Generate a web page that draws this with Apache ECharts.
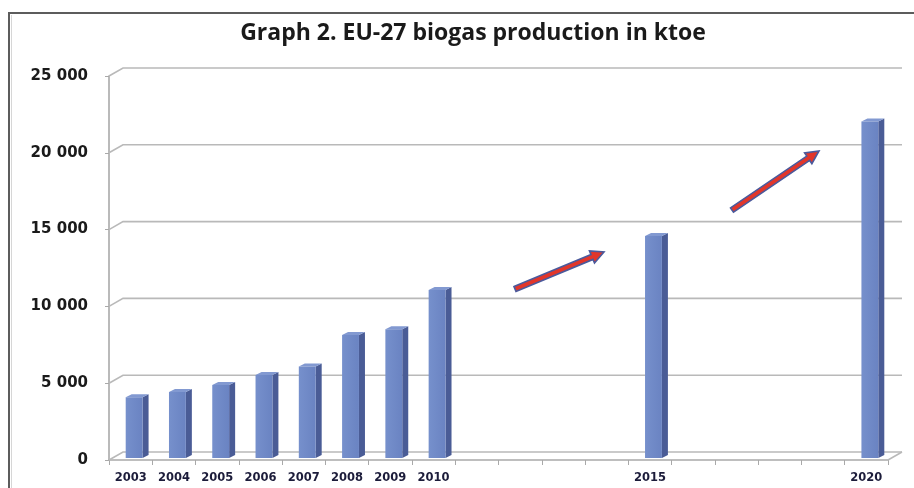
<!DOCTYPE html>
<html>
<head>
<meta charset="utf-8">
<script src="https://cdn.jsdelivr.net/npm/echarts@6/dist/echarts.min.js"></script>
<style>
  html, body { margin: 0; padding: 0; background: #fff; }
  #chart { width: 914px; height: 488px; }
</style>
</head>
<body>
<div id="chart"></div>
<script>
// data (ktoe)
var years = ['2003', '2004', '2005', '2006', '2007', '2008', '2009', '2010', '2011',
  '2012', '2013', '2014', '2015', '2016', '2017', '2018', '2019', '2020']
var production = [3950, 4300, 4750, 5400, 5950, 8000, 8380, 10940, null,
  null, null, null, 14450, null, null, null, null, 21900]
var yTicks = [0, 5000, 10000, 15000, 20000, 25000]

var DEPTH_X = 14
var DEPTH_Y = -8
var gridColor = '#b9b9b9'

// 3d-ish column: front face, side, top
function renderBar(params, api) {
  var idx = api.value(0)
  var v = api.value(1)
  var base = api.coord([idx, 0])
  var top = api.coord([idx, v])
  var band = api.size([1, 0])[0]
  var w = band * 0.39
  var x0 = base[0] - w / 2 + 3.5
  var x1 = x0 + w
  var yb = base[1] - 2
  var yt = top[1] - 2
  var dx = 6
  var dy = -3
  return {
    type: 'group',
    children: [
      {
        type: 'polygon',
        shape: { points: [[x1, yb], [x1 + dx, yb + dy], [x1 + dx, yt + dy], [x1, yt]] },
        style: { fill: '#4a5c96' }
      },
      {
        type: 'polygon',
        shape: { points: [[x0, yt], [x0 + dx, yt + dy], [x1 + dx, yt + dy], [x1, yt]] },
        style: { fill: '#8299d1' }
      },
      {
        type: 'rect',
        shape: { x: x0, y: yt, width: w, height: yb - yt },
        style: {
          fill: new echarts.graphic.LinearGradient(0, 0, 1, 0, [
            { offset: 0, color: '#7690cc' },
            { offset: 1, color: '#6a83c2' }
          ])
        }
      }
    ]
  }
}

// back wall grid lines with the little slant at the left
function renderWall(params, api) {
  var cs = params.coordSys
  var left = cs.x
  var right = cs.x + cs.width
  var y = api.coord([0, api.value(1)])[1]
  var children = [{
    type: 'polyline',
    shape: { points: [[left, y], [left + DEPTH_X, y + DEPTH_Y], [right + DEPTH_X, y + DEPTH_Y]] },
    style: { stroke: gridColor, lineWidth: 1.6, fill: null }
  }]
  if (api.value(1) === 0) {
    children.push({
      type: 'line',
      shape: { x1: right, y1: y, x2: right + DEPTH_X, y2: y + DEPTH_Y },
      style: { stroke: gridColor, lineWidth: 1.6 }
    })
  }
  return { type: 'group', children: children }
}

// red arrows (annotation)
function arrow(x1, y1, x2, y2) {
  var ang = Math.atan2(y2 - y1, x2 - x1)
  var c = Math.cos(ang)
  var s = Math.sin(ang)
  var hw = 2.6
  var headW = 6.5
  var headL = 13
  function p(a, b) { return [x1 + a * c - b * s, y1 + a * s + b * c] }
  var len = Math.sqrt((x2 - x1) * (x2 - x1) + (y2 - y1) * (y2 - y1))
  return {
    type: 'polygon',
    shape: {
      points: [p(0, -hw), p(len - headL, -hw), p(len - headL, -headW), p(len, 0),
        p(len - headL, headW), p(len - headL, hw), p(0, hw)]
    },
    style: { fill: '#e2362a', stroke: '#4b5a9c', lineWidth: 1.6 },
    z: 100
  }
}

var chart = echarts.init(document.getElementById('chart'))

var option = {
  animation: false,
  title: {
    text: 'Graph 2. EU-27 biogas production in ktoe',
    left: 468,
    textAlign: 'center',
    top: 17,
    textStyle: {
      fontFamily: 'Open Sans',
      fontWeight: 'bold',
      fontSize: 23,
      color: '#1a1a1a'
    }
  },
  graphic: [
    {
      type: 'rect',
      shape: { x: 9, y: 13, width: 960, height: 520 },
      style: { fill: null, stroke: '#5c5c5c', lineWidth: 2 }
    },
    {
      type: 'line',
      shape: { x1: 11.5, y1: 15, x2: 11.5, y2: 488 },
      style: { stroke: '#d6d6d6', lineWidth: 1 }
    },
    arrow(515, 289, 604, 252),
    arrow(732, 210, 819, 151)
  ],
  grid: {
    left: 109,
    right: 26,
    top: 76,
    bottom: 28
  },
  xAxis: {
    type: 'category',
    data: years,
    axisLine: { lineStyle: { color: '#a9a9a9', width: 1.6 } },
    axisTick: { show: true, interval: 0, length: 5, lineStyle: { color: '#a9a9a9' } },
    axisLabel: {
      interval: 0,
      margin: 12,
      fontFamily: 'DejaVu Sans',
      fontWeight: 'bold',
      fontSize: 11.5,
      color: '#1c1c3a',
      formatter: function(val, i) {
        return production[i] == null ? '' : val
      }
    },
    splitLine: { show: false }
  },
  yAxis: {
    type: 'value',
    min: 0,
    max: 25000,
    interval: 5000,
    axisLine: { show: true, lineStyle: { color: '#a9a9a9', width: 1.6 } },
    axisTick: { show: true, length: 4, lineStyle: { color: '#a9a9a9' } },
    axisLabel: {
      margin: 21,
      fontFamily: 'DejaVu Sans',
      fontWeight: 'bold',
      fontSize: 15,
      color: '#1a1a1a',
      formatter: function(v) {
        return String(v).replace(/\B(?=(\d{3})+(?!\d))/g, ' ')
      }
    },
    splitLine: { show: false }
  },
  series: [
    {
      type: 'custom',
      name: 'walls',
      renderItem: renderWall,
      data: yTicks.map(function(v) { return [0, v] }),
      z: 1,
      silent: true
    },
    {
      type: 'custom',
      name: 'biogas',
      renderItem: renderBar,
      data: production
        .map(function(v, i) { return [i, v] })
        .filter(function(d) { return d[1] != null }),
      z: 5
    }
  ]
}

chart.setOption(option)
</script>
</body>
</html>
